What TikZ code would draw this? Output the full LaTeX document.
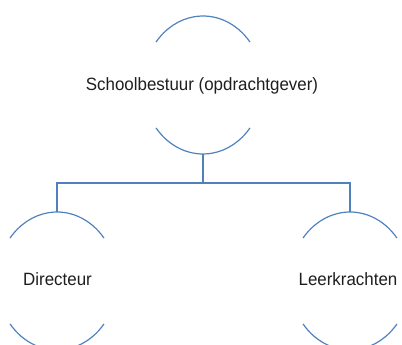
\documentclass[tikz,border=0pt]{standalone}
\usepackage{fontspec}
\setmainfont[FakeStretch=0.95]{Liberation Sans}
\usetikzlibrary{calc}
\definecolor{linecol}{RGB}{79,129,189}
\definecolor{textcol}{RGB}{30,30,30}
\begin{document}
\begin{tikzpicture}[x=1pt,y=1pt,
  lbl/.style={anchor=base,inner sep=0pt,text=textcol,font=\fontsize{17.8}{20}\selectfont},
  arcline/.style={draw=linecol,line width=1.2pt},
  conn/.style={draw=linecol,line width=1.3pt}]
\useasboundingbox (0,0) rectangle (402,345);
% ellipse centres
\coordinate (topC) at (203,260);
\coordinate (dirC) at (57,64);
\coordinate (leeC) at (350,64);
% arcs
\foreach \c in {topC,dirC,leeC}{
  \draw[arcline] ($(\c)+(38.5:60pt and 69pt)$) arc[start angle=38.5,end angle=141.5,x radius=60pt,y radius=69pt];
  \draw[arcline] ($(\c)+(218.5:60pt and 69pt)$) arc[start angle=218.5,end angle=321.5,x radius=60pt,y radius=69pt];
}
% labels
\node[lbl] (top) at (202,254) {Schoolbestuur (opdrachtgever)};
\node[lbl] (dir) at (57.5,59) {Directeur};
\node[lbl] (lee) at (348,59) {Leerkrachten};
% connector points
\coordinate (topBot) at ($(topC)+(0,-69pt)$);
\coordinate (dirTop) at ($(dirC)+(0,69pt)$);
\coordinate (leeTop) at ($(leeC)+(0,69pt)$);
\coordinate (bus) at (203,162);
\draw[conn] (topBot) -- (bus);
\draw[conn] (dirTop) |- (bus) -| (leeTop);
\end{tikzpicture}
\end{document}
